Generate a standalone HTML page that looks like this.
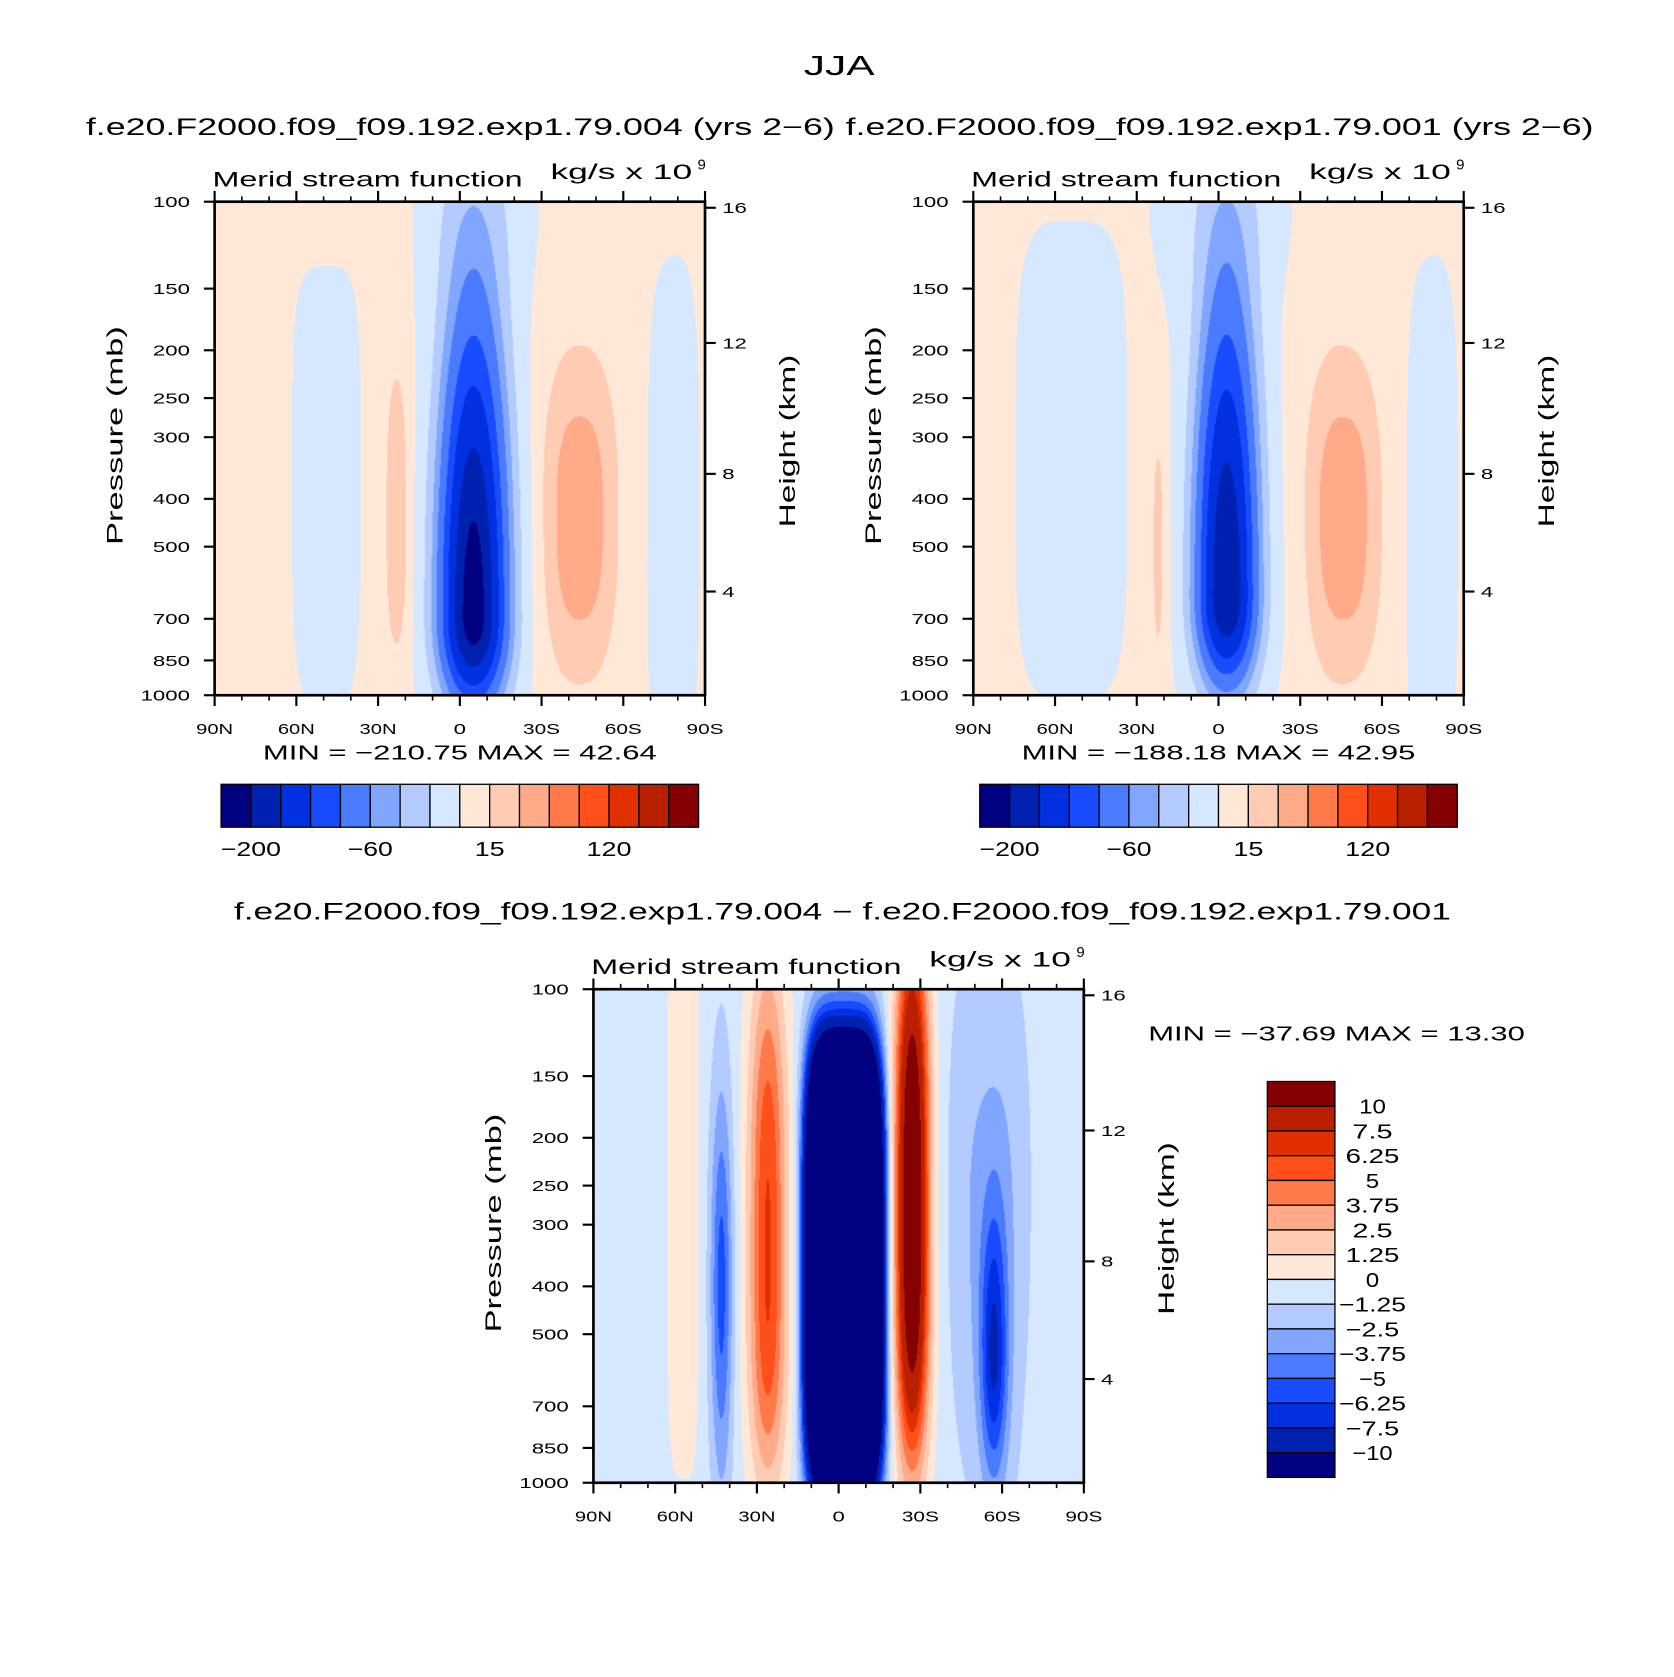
<!DOCTYPE html>
<html><head><meta charset="utf-8">
<style>
html,body{margin:0;padding:0;background:#fff;}
#outer{position:relative;width:1674px;height:1677px;overflow:hidden;background:#fff;}
#stage{position:absolute;left:0;top:0;width:1560px;height:1563px;transform:scale(1.0731,1.0729);transform-origin:0 0;}
canvas{position:absolute;}
svg{position:absolute;left:0;top:0;}
text{font-family:"Liberation Sans",sans-serif;fill:#000;}
</style></head>
<body>
<div id="outer">
<div id="stage">
<canvas id="c1"></canvas>
<canvas id="c2"></canvas>
<canvas id="c3"></canvas>
<svg id="svg" width="1560" height="1563" viewBox="0 0 1560 1563"></svg>
</div></div>
<script>
// ---- data arrays ----
const latTicks = [90, 60, 30, 0, -30, -60, -90];
const latTickLabels = ["90N", "60N", "30N", "0", "30S", "60S", "90S"];
const presTicks = [100, 150, 200, 250, 300, 400, 500, 700, 850, 1000];
const heightTicks = [4, 8, 12, 16];
const topColors = ["#000080","#0020b0","#0030e0","#1a4cff","#4a7bff","#80a6ff","#b3cbff","#d6e8ff","#ffe8d8","#ffcbb3","#ffaa88","#ff7a4a","#ff4f1a","#e03000","#b82000","#850000"];
const topLevels = [-200,-160,-120,-90,-60,-40,-20,0,15,30,45,60,120,160,200];
const topBarLabels = ["\u2212200","\u221260","15","120"];
const topBarLabelIdx = [0,4,8,12];
const diffLevels = [-10,-7.5,-6.25,-5,-3.75,-2.5,-1.25,0,1.25,2.5,3.75,5,6.25,7.5,10];
const diffBarLabels = ["10","7.5","6.25","5","3.75","2.5","1.25","0","\u22121.25","\u22122.5","\u22123.75","\u22125","\u22126.25","\u22127.5","\u221210"];
// cell parameters: lat, yfrac, sLat, sUp, sDown, amp, pLat, pVert
const p1Lat = [-5, -44, -44, 23, 49, -78, -8];
const p1F   = [0.84, 0.65, 0.35, 0.65, 0.55, 0.6, 0.0];
const p1SL  = [12, 13, 18, 5, 12, 10, 22];
const p1SU  = [0.6, 0.3, 0.6, 0.35, 0.4, 0.5, 0.2];
const p1SD  = [0.18, 0.3, 0.7, 0.3, 0.45, 0.6, 0.2];
const p1Amp = [-225, 34, 5, 22, -10, -8, -10];
const p1PL  = [2, 2.5, 2, 2, 4, 3, 4];
const p1PV  = [2, 2.5, 2, 3, 4, 3, 2];
const p1Base = 3;
const p2Lat = [-3, -46, -44, 22, 54, -78, -2];
const p2F   = [0.8, 0.65, 0.35, 0.7, 0.55, 0.6, 0.0];
const p2SL  = [11, 13, 18, 3.5, 20, 10, 26];
const p2SU  = [0.6, 0.3, 0.6, 0.3, 0.5, 0.5, 0.2];
const p2SD  = [0.18, 0.3, 0.7, 0.3, 0.45, 0.6, 0.2];
const p2Amp = [-200, 34, 5, 16, -9, -8, -10];
const p2PL  = [2, 2.5, 2, 2, 4, 3, 4];
const p2PV  = [2, 2.5, 2, 3, 4, 3, 2];
const p2Base = 3;
const p3Lat = [-2, -27, 26, 43, -57, -55, 57];
const p3F   = [0.58, 0.45, 0.55, 0.6, 0.75, 0.4, 0.4];
const p3SL  = [13, 6, 7, 4, 5, 15, 7];
const p3SU  = [0.45, 0.55, 0.6, 0.4, 0.3, 0.5, 0.7];
const p3SD  = [0.42, 0.5, 0.45, 0.4, 0.25, 0.6, 0.7];
const p3Amp = [-45, 14, 7, -5, -6, -2, 1];
const p3PL  = [4, 2, 2, 2, 2, 3, 4];
const p3PV  = [4, 3, 3, 2, 2, 2, 4];
const p3Base = -0.6;

const NS = "http://www.w3.org/2000/svg";
const svg = document.getElementById('svg');
function mk(tag, attrs, parent){const e=document.createElementNS(NS,tag);for(const k in attrs)e.setAttribute(k,attrs[k]);(parent||svg).appendChild(e);return e;}
function txt(s, x, y, size, anchor, parent, rot, len){const t=mk('text',{x:x,y:y,'font-size':size,'text-anchor':anchor||'start'},parent);if(rot)t.setAttribute('transform','rotate(-90 '+x+' '+y+')');if(len){t.setAttribute('textLength',len);t.setAttribute('lengthAdjust','spacingAndGlyphs');}t.textContent=s;return t;}
function stdP(z){return z<=11?1013.25*Math.pow(1-0.0065*z*1000/288.15,5.2559):226.32*Math.exp(-(z-11)/6.3416);}

function hexRGB(h){return [parseInt(h.substr(1,2),16),parseInt(h.substr(3,2),16),parseInt(h.substr(5,2),16)];}
const rgbCols = topColors.map(hexRGB);

function field(lat,f,L,F,SL,SU,SD,A,PL,PV,base){
  let v=base;
  for(let k=0;k<L.length;k++){
    const dy=f-F[k];const s=dy<0?SU[k]:SD[k];
    v+=A[k]*Math.exp(-Math.pow(Math.abs(lat-L[k])/SL[k],PL[k])-Math.pow(Math.abs(dy)/s,PV[k]));
  }
  return v;
}
function drawField(id,x0,y0,W,H,L,F,SL,SU,SD,A,PL,PV,base,levels){
  const c=document.getElementById(id);c.width=W;c.height=H;c.style.left=x0+'px';c.style.top=y0+'px';
  const ctx=c.getContext('2d');const img=ctx.createImageData(W,H);
  for(let j=0;j<H;j++){const f=(j+0.5)/H;
    for(let i=0;i<W;i++){const lat=90-(i+0.5)/W*180;
      const v=field(lat,f,L,F,SL,SU,SD,A,PL,PV,base);
      let idx=0;while(idx<levels.length&&v>=levels[idx])idx++;
      const col=rgbCols[idx];const o=(j*W+i)*4;
      img.data[o]=col[0];img.data[o+1]=col[1];img.data[o+2]=col[2];img.data[o+3]=255;}}
  ctx.putImageData(img,0,0);
}

function axes(name,x0,y0,W,H){
  const g=mk('g',{});
  
  
  const X=lat=>x0+(90-lat)/180*W;
  const Y=p=>y0+Math.log10(p/100)*H;
  mk('rect',{x:x0,y:y0,width:W,height:H,fill:'none',stroke:'#000','stroke-width':2.5},g);
  for(let lat=90;lat>=-90;lat-=10){
    const major=lat%30===0;const len=major?10:5;
    mk('line',{x1:X(lat),x2:X(lat),y1:y0+H,y2:y0+H+len,stroke:'#000','stroke-width':major?2:1.5},g);
    mk('line',{x1:X(lat),x2:X(lat),y1:y0,y2:y0-len,stroke:'#000','stroke-width':major?2:1.5},g);
  }
  latTicks.forEach((lat,i)=>{const s=latTickLabels[i];const t=txt(s,X(lat),y0+H+36,14,'middle',g,false,s.length*11.5);
    
    });
  presTicks.forEach(p=>{mk('line',{x1:x0-10,x2:x0,y1:Y(p),y2:Y(p),stroke:'#000','stroke-width':2},g);
    const s=String(p);const t=txt(s,x0-23,Y(p)+5,14,'end',g,false,s.length*11.5);
    
    });
  heightTicks.forEach(z=>{const yy=Y(stdP(z));mk('line',{x1:x0+W,x2:x0+W+10,y1:yy,y2:yy,stroke:'#000','stroke-width':2},g);
    const s=String(z);const t=txt(s,x0+W+16,yy+5,14,'start',g,false,s.length*11.5);
    
    });
  const yl=txt('Pressure  (mb)',x0-86,y0+H/2-12,21,'middle',g,true,204);
  
  
  const hl=txt('Height  (km)',x0+W+84,y0+H/2-7,21,'middle',g,true,161);
  
  
  const lt=txt('Merid  stream  function',x0-2,y0-14,20,'start',g,false,289);
  
  
  const rt=txt('kg/s  x  10',x0+313,y0-21,20,'start',g,false,132);
  
  
  txt('9',x0+450,y0-30,14,'start',g);
}

// panels
drawField('c1',200,188,457,460,p1Lat,p1F,p1SL,p1SU,p1SD,p1Amp,p1PL,p1PV,p1Base,topLevels);
drawField('c2',907,188,457,460,p2Lat,p2F,p2SL,p2SU,p2SD,p2Amp,p2PL,p2PV,p2Base,topLevels);
drawField('c3',553,922,457,460,p3Lat,p3F,p3SL,p3SU,p3SD,p3Amp,p3PL,p3PV,p3Base,diffLevels);
axes('panel-exp004',200,188,457,460);
axes('panel-exp001',907,188,457,460);
axes('panel-difference',553,922,457,460);

let t;
t=txt('JJA',749,70,26,'start',null,false,66);


t=txt('f.e20.F2000.f09_f09.192.exp1.79.004 (yrs 2\u22126)',80,126,22,'start',null,false,698);


t=txt('f.e20.F2000.f09_f09.192.exp1.79.001 (yrs 2\u22126)',788,126,22,'start',null,false,697);


t=txt('f.e20.F2000.f09_f09.192.exp1.79.004 \u2212 f.e20.F2000.f09_f09.192.exp1.79.001',218,857,22,'start',null,false,1134);


t=txt('MIN =  \u2212210.75    MAX =   42.64',245,708,19,'start',null,false,367);


t=txt('MIN =  \u2212188.18    MAX =   42.95',952,708,19,'start',null,false,367);


t=txt('MIN =  \u221237.69    MAX =   13.30',1070,970,19,'start',null,false,351);



function hbar(name,x0,y0,W,H){
  const g=mk('g',{});
  
  
  const bw=W/topColors.length;
  topColors.forEach((c,i)=>{const r=mk('rect',{x:x0+i*bw,y:y0,width:bw,height:H,fill:c,stroke:'#000','stroke-width':1.2},g);
    
    });
  topBarLabelIdx.forEach((b,i)=>{const s=topBarLabels[i];const l=txt(s,x0+(b+1)*bw,y0+H+27,19,'middle',g,false,s.length*14);
    
    });
}
hbar('colorbar-exp004',206,731,445,40);
hbar('colorbar-exp001',913,731,445,40);

(function(){
  const g=mk('g',{});
  
  
  const x0=1181,y0=1008,W=63,H=369;const bh=H/topColors.length;
  for(let i=0;i<topColors.length;i++){
    const r=mk('rect',{x:x0,y:y0+i*bh,width:W,height:bh,fill:topColors[topColors.length-1-i],stroke:'#000','stroke-width':1.2},g);
    
    
  }
  diffBarLabels.forEach((s,i)=>{const l=txt(s,1279,y0+(i+1)*bh+7,19,'middle',g,false,s.length*12.5);
    
    });
})();
</script>
</body></html>
